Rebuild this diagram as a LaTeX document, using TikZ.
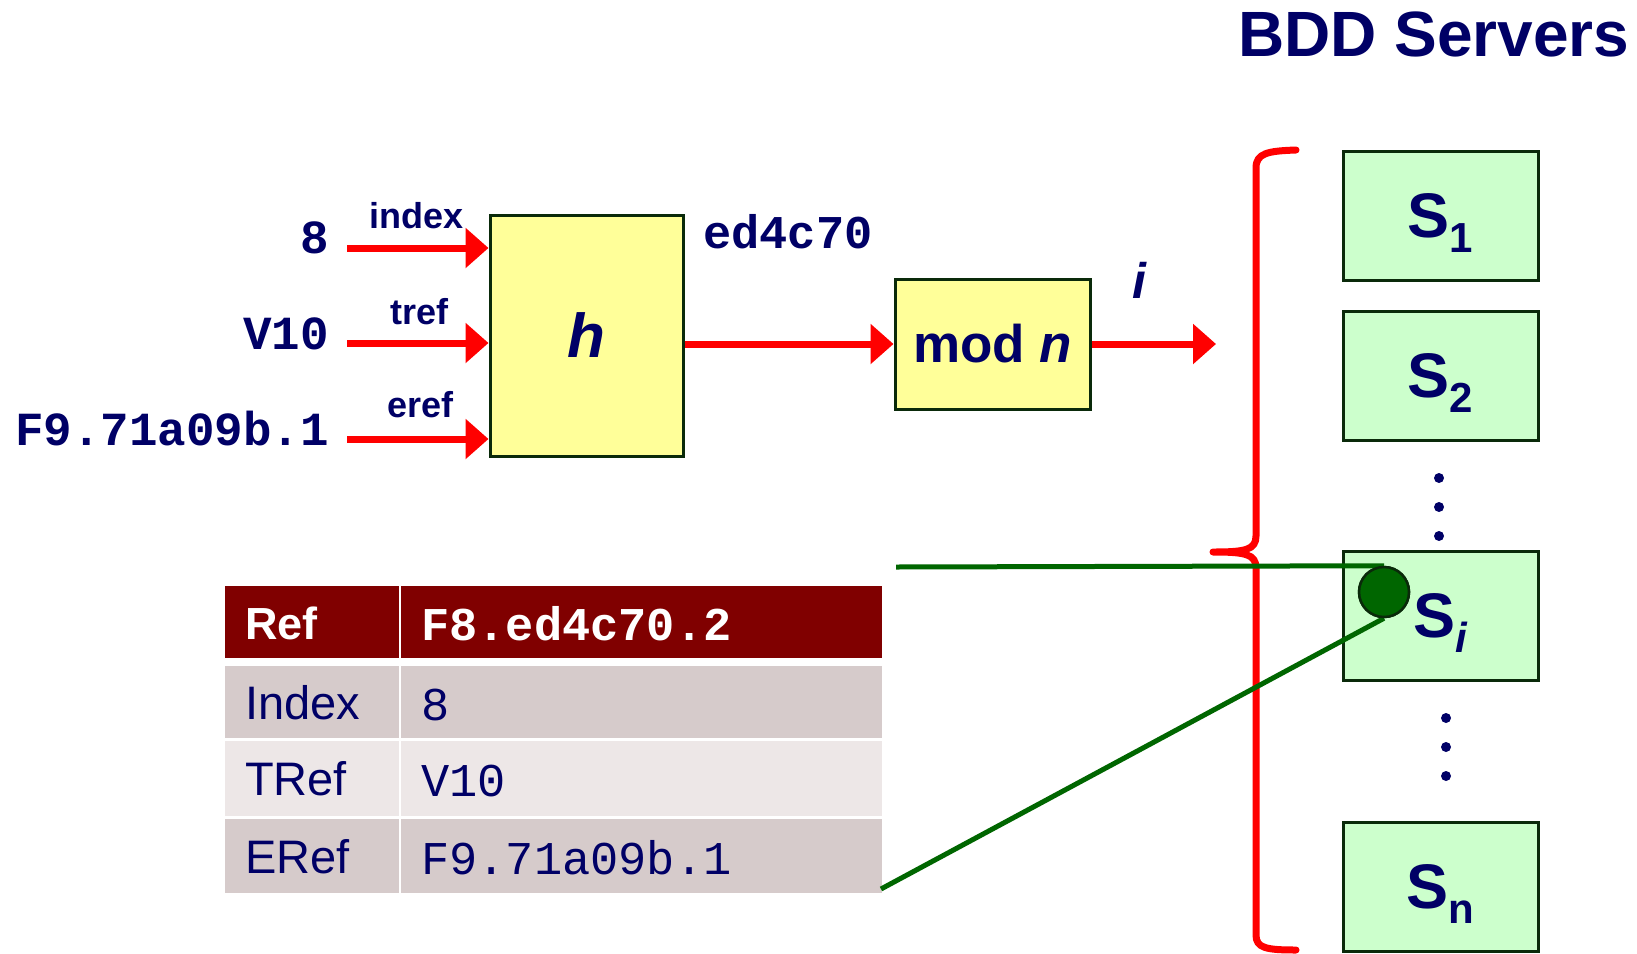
\documentclass[tikz,border=0pt]{standalone}
\usepackage{fontspec}
\setmainfont{Liberation Sans}
\newfontfamily\monofont{Liberation Mono}
\usetikzlibrary{arrows.meta}

\definecolor{txtblue}{HTML}{000066}
\definecolor{arrowred}{HTML}{FF0000}
\definecolor{boxedge}{HTML}{0A2A0A}
\definecolor{hashfill}{HTML}{FFFF99}
\definecolor{srvfill}{HTML}{CCFFCC}
\definecolor{linkgreen}{HTML}{006600}
\definecolor{hdrred}{HTML}{800000}
\definecolor{rowdark}{HTML}{D6CBCB}
\definecolor{rowlight}{HTML}{EDE7E7}

\newcommand\srvlabel[1]{{\fontsize{63}{70}\selectfont\bfseries S\smash{\raisebox{-15pt}{\fontsize{42}{48}\selectfont #1}}}}

\begin{document}
\begin{tikzpicture}[x=1pt,y=-1pt,
  redarrow/.style={draw=arrowred, line width=7pt, -{Triangle[length=23pt,width=39pt]}},
  ybox/.style={draw=boxedge, line width=3pt, fill=hashfill, inner sep=0pt, text=txtblue},
  sbox/.style={draw=boxedge, line width=3pt, fill=srvfill, minimum width=195pt, minimum height=129pt, inner sep=0pt, text=txtblue},
  inlabel/.style={inner sep=0pt, text=txtblue, font=\fontsize{47.5}{54}\selectfont\monofont\bfseries, anchor=base east},
  arlabel/.style={inner sep=0pt, text=txtblue, font=\fontsize{36}{42}\selectfont\bfseries, anchor=base west},
  dot/.style={circle, fill=txtblue, inner sep=0pt, minimum size=10pt},
  cellA/.style={anchor=north west, inner xsep=20pt, inner ysep=0pt, text width=134pt, align=left, text height=34pt, text depth=0pt, font=\fontsize{47}{54}\selectfont},
  cellB/.style={anchor=north west, inner xsep=20pt, inner ysep=0pt, text width=441pt, align=left, text height=36pt, text depth=0pt, font=\fontsize{47}{54}\selectfont\monofont},
  link/.style={draw=linkgreen, line width=5pt}
]
\useasboundingbox (0,0) rectangle (1637,953);

% heading
\node[inner sep=0pt, anchor=base west, text=txtblue, font=\fontsize{64}{70}\selectfont\bfseries] (title) at (1238,56) {BDD Servers};

% hash function and modulus
\node[ybox, minimum width=193pt, minimum height=241pt] (h) at (586.5,335.5) {\fontsize{62}{70}\selectfont\bfseries\itshape h};
\node[ybox, minimum width=195pt, minimum height=130pt] (modn) at (992.5,344) {\fontsize{53}{60}\selectfont\bfseries mod \textit{n}};

% inputs
\coordinate (in1) at (347,248);
\coordinate (in2) at (347,343);
\coordinate (in3) at (347,439);
\node[inlabel] (v1) at (329,253) {8};
\node[inlabel] (v2) at (329,349) {V10};
\node[inlabel] (v3) at (329,445) {F9.71a09b.1};
\node[arlabel] (l1) at (369,228) {index};
\node[arlabel] (l2) at (390,324) {tref};
\node[arlabel] (l3) at (387,417) {eref};
\draw[redarrow] (in1) -- (in1 -| h.west);
\draw[redarrow] (in2) -- (in2 -| h.west);
\draw[redarrow] (in3) -- (in3 -| h.west);

% hash value and index
\node[inner sep=0pt, anchor=base west, text=txtblue, font=\fontsize{47}{52}\selectfont\monofont\bfseries] (hv) at (703,248) {ed4c70};
\draw[redarrow] (h.east |- modn.west) -- (modn.west);
\coordinate (iout) at (1216,344);
\draw[redarrow] (modn.east) -- (iout);
\node[inner sep=0pt, anchor=base, text=txtblue, font=\fontsize{50}{56}\selectfont\bfseries\itshape] (ilab) at (1139,298) {i};

% servers
\node[sbox] (s1) at (1440.5,215.5) {\srvlabel{1}};
\node[sbox] (s2) at (1440.5,375.5) {\srvlabel{2}};
\node[sbox] (si) at (1440.5,616) {\srvlabel{\itshape i}};
\node[sbox] (sn) at (1440.5,887) {\srvlabel{n}};
\node[dot] (d1) at (1439,478) {};
\node[dot] (d2) at (1439,507) {};
\node[dot] (d3) at (1439,536) {};
\node[dot] (d4) at (1446,718) {};
\node[dot] (d5) at (1446,747) {};
\node[dot] (d6) at (1446,776) {};

% brace grouping the servers
\draw[arrowred, line width=7pt, line cap=round, line join=round]
  (1296,150) .. controls (1268,151) and (1256,153) .. (1256,168)
  -- (1256,536) .. controls (1256,550) and (1245,552) .. (1213,552)
  .. controls (1245,552) and (1256,554) .. (1256,568)
  -- (1256,935) .. controls (1256,948) and (1266,950) .. (1296,950);

% entry table
\node[cellA, fill=hdrred, text=white, minimum height=72pt, font=\fontsize{45}{52}\selectfont\bfseries] (r0a) at (225,586) {Ref};
\node[cellB, fill=hdrred, text=white, minimum height=72pt, font=\fontsize{47}{54}\selectfont\monofont\bfseries] (r0b) at (401,586) {F8.ed4c70.2};
\node[cellA, fill=rowdark, text=txtblue, minimum height=72pt] (r1a) at (225,666) {Index};
\node[cellB, fill=rowdark, text=txtblue, minimum height=72pt] (r1b) at (401,666) {8};
\node[cellA, fill=rowlight, text=txtblue, minimum height=75pt] (r2a) at (225,741) {TRef};
\node[cellB, fill=rowlight, text=txtblue, minimum height=75pt] (r2b) at (401,741) {V10};
\node[cellA, fill=rowdark, text=txtblue, minimum height=74pt] (r3a) at (225,819) {ERef};
\node[cellB, fill=rowdark, text=txtblue, minimum height=74pt] (r3b) at (401,819) {F9.71a09b.1};

% link from the table entry to its server
\node[circle, fill=linkgreen, draw=boxedge, line width=2.5pt, minimum size=50pt, inner sep=0pt] (hit) at (1384,592) {};
\coordinate (tabtop) at (896,567);
\coordinate (tabend) at (881,889);
\draw[link] (tabtop) -- (hit.north);
\draw[link] (hit.south) -- (tabend);
\node[circle, fill=linkgreen, draw=boxedge, line width=2.5pt, minimum size=50pt, inner sep=0pt] at (hit) {};
\end{tikzpicture}
\end{document}
